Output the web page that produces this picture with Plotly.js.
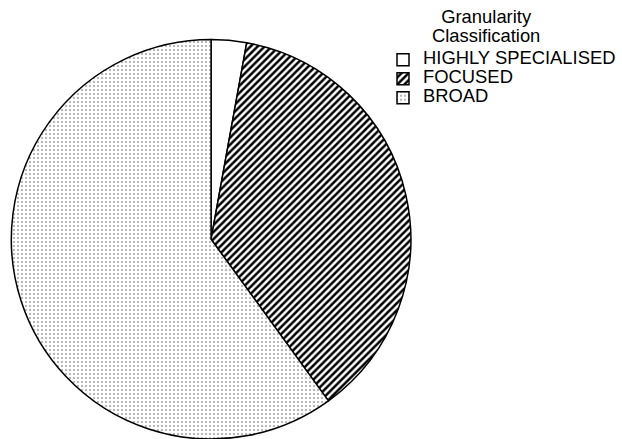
<!DOCTYPE html>
<html>
<head>
<meta charset="utf-8">
<script src="https://cdn.plot.ly/plotly-3.0.1.min.js"></script>
<style>html,body{margin:0;padding:0;background:#fff;}#chart{width:622px;height:439px;}</style>
</head>
<body>
<div id="chart"></div>
<script>
const categories = ["HIGHLY SPECIALISED", "FOCUSED", "BROAD"];
const values = [1, 13, 21];
const legendTitleLines = ["Granularity", "Classification"];

const patternShapes = ["", "/", "."];
const patternFg = ["#000000", "#000000", "#555555"];

const big = s => '<span style="font-size:18.4px">' + s + '</span>';

const data = [{
  type: "pie",
  labels: categories.map(big),
  values: values,
  sort: false,
  direction: "clockwise",
  rotation: 0,
  textinfo: "none",
  hoverinfo: "label+percent",
  domain: {x: [0.0177, 0.661], y: [0, 0.91]},
  marker: {
    colors: ["#ffffff", "#ffffff", "#ffffff"],
    line: {color: "#000000", width: 1.5},
    pattern: {
      shape: patternShapes,
      fgcolor: patternFg,
      bgcolor: "#ffffff",
      fgopacity: 1,
      size: [5, 5, 4],
      solidity: [0.3, 0.5, 0.12]
    }
  }
}];

const layout = {
  width: 622,
  height: 439,
  margin: {l: 0, r: 0, t: 0, b: 0},
  paper_bgcolor: "#ffffff",
  plot_bgcolor: "#ffffff",
  font: {family: "Liberation Sans, Arial, sans-serif", color: "#000000", size: 12},
  showlegend: true,
  legend: {
    x: 383 / 622,
    y: 0.897,
    xanchor: "left",
    yanchor: "top",
    bgcolor: "rgba(0,0,0,0)",
    traceorder: "normal",
    itemwidth: 30,
    font: {size: 12}
  },
  annotations: [{
    xref: "paper", yref: "paper",
    x: 485.5 / 622, y: 1 - 4 / 439,
    xanchor: "center", yanchor: "top",
    showarrow: false,
    align: "center",
    font: {size: 14.6},
    text: legendTitleLines.map(big).join("<br>")
  }]
};

Plotly.newPlot("chart", data, layout, {displayModeBar: false, staticPlot: true});
</script>
</body>
</html>
